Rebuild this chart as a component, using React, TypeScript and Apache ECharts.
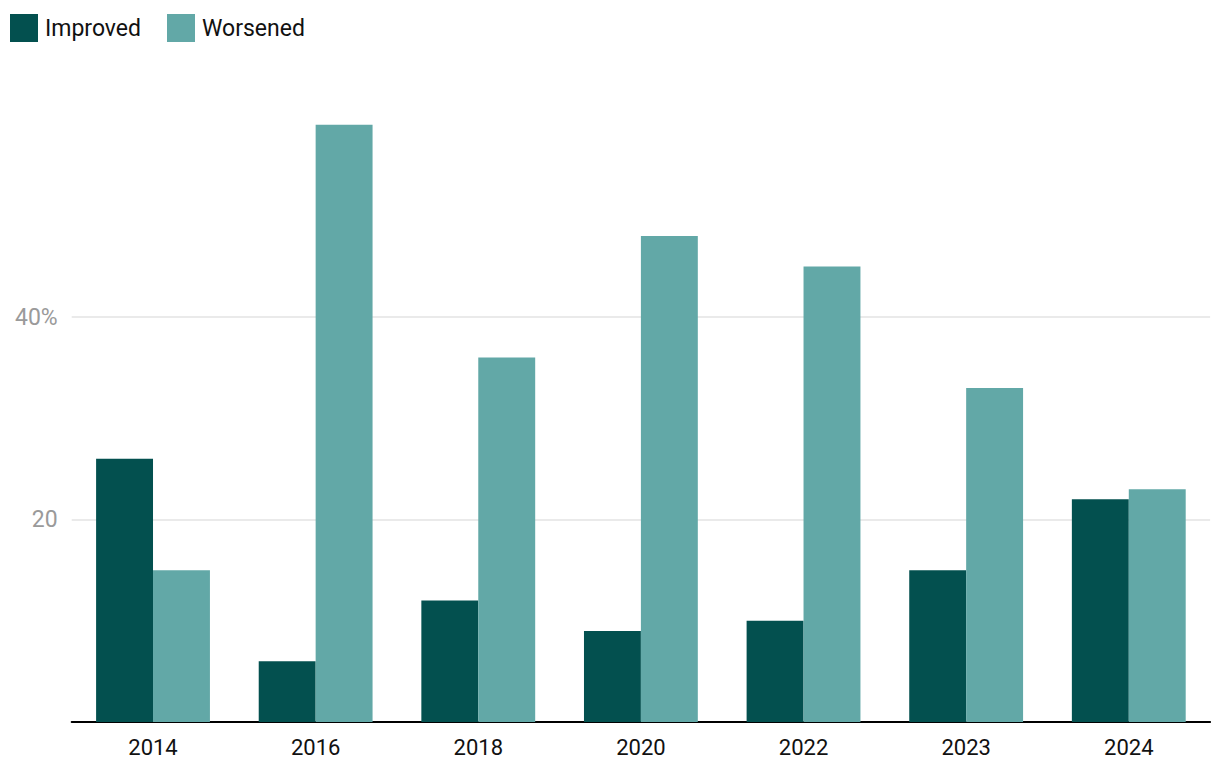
import React, { useEffect, useRef } from "react";
import * as echarts from "echarts";

const categories = ["2014", "2016", "2018", "2020", "2022", "2023", "2024"];
const improved = [26, 6, 12, 9, 10, 15, 22];
const worsened = [15, 59, 36, 48, 45, 33, 23];
const yLabels: Record<number, string> = { 20: "20", 40: "40%" };

export default function App() {
  const ref = useRef<HTMLDivElement>(null);
  useEffect(() => {
    if (!ref.current) return;
    const chart = echarts.init(ref.current, undefined, { renderer: "svg" });
    chart.setOption({
      animation: false,
      textStyle: { fontFamily: "Roboto" },
      legend: {
        left: 2,
        top: 6,
        padding: 0,
        itemWidth: 28,
        itemHeight: 28,
        itemGap: 26,
        icon: "rect",
        textStyle: { fontSize: 23, color: "#111", fontFamily: "Roboto", padding: [0, 0, 0, 2] },
        data: ["Improved", "Worsened"],
      },
      grid: { left: 63.7, right: 1.9, top: 106.5, bottom: 48, containLabel: false },
      xAxis: {
        type: "category",
        data: categories,
        axisLine: { show: true, lineStyle: { color: "#000", width: 2 } },
        axisTick: { show: false },
        axisLabel: { fontSize: 22, color: "#111", margin: 14, fontFamily: "Roboto" },
      },
      yAxis: {
        type: "value",
        min: 0,
        max: 60,
        interval: 20,
        axisLine: { show: false },
        axisTick: { show: false },
        axisLabel: {
          fontSize: 23,
          color: "#9a9a9a",
          margin: 14,
          fontFamily: "Roboto",
          formatter: (v: number) => yLabels[v] ?? "",
        },
        splitLine: {
          show: true,
          lineStyle: {
            color: ["rgba(0,0,0,0)", "#e3e3e3", "#e3e3e3", "rgba(0,0,0,0)"],
            width: 1.5,
          },
        },
      },
      series: [
        {
          name: "Improved",
          type: "bar",
          data: improved,
          barGap: "0%",
          barCategoryGap: "30%",
          itemStyle: { color: "#03504f" },
        },
        {
          name: "Worsened",
          type: "bar",
          data: worsened,
          barGap: "0%",
          barCategoryGap: "30%",
          itemStyle: { color: "#62a8a7" },
        },
      ],
    });
    return () => chart.dispose();
  }, []);
  return <div ref={ref} style={{ width: 1204, height: 762 }} />;
}
